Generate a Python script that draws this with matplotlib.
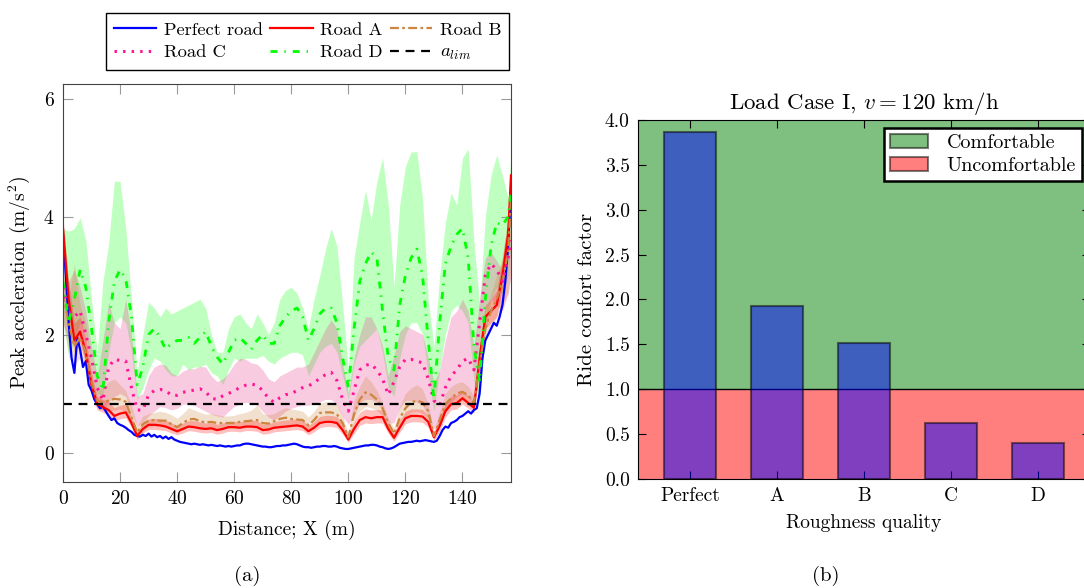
import numpy as np
import matplotlib
matplotlib.use("Agg")
import matplotlib.pyplot as plt
from matplotlib.patches import Patch

plt.rcParams['font.family'] = ['cmr10', 'DejaVu Serif']
plt.rcParams['mathtext.fontset'] = 'cm'
plt.rcParams['axes.formatter.use_mathtext'] = True

# ---------------- data, panel (a) ----------------
# distance grid (m) for the road cases with bands
dist = list(range(0, 157, 2)) + [157]

# perfect road, sampled every metre
dist_perfect = list(range(0, 158))
perfect = [3.7, 3.0, 2.2, 1.6, 1.35, 1.95, 1.75, 1.45, 1.55, 1.15,
           1.05, 0.9, 0.82, 0.75, 0.78, 0.7, 0.62, 0.55, 0.58, 0.5,
           0.47, 0.45, 0.42, 0.38, 0.35, 0.3, 0.28, 0.27, 0.3, 0.28,
           0.32, 0.27, 0.3, 0.26, 0.28, 0.24, 0.27, 0.23, 0.26, 0.22,
           0.2, 0.18, 0.17, 0.16, 0.15, 0.14, 0.15, 0.14, 0.13, 0.14,
           0.13, 0.12, 0.13, 0.12, 0.11, 0.12, 0.11, 0.1, 0.11, 0.1,
           0.11, 0.12, 0.12, 0.14, 0.15, 0.15, 0.14, 0.13, 0.12, 0.11,
           0.1, 0.1, 0.09, 0.09, 0.1, 0.11, 0.11, 0.12, 0.12, 0.13,
           0.14, 0.15, 0.14, 0.12, 0.1, 0.09, 0.09, 0.08, 0.09, 0.1,
           0.1, 0.11, 0.11, 0.1, 0.1, 0.11, 0.1, 0.08, 0.07, 0.06,
           0.06, 0.07, 0.08, 0.09, 0.1, 0.11, 0.12, 0.12, 0.13, 0.13,
           0.12, 0.1, 0.09, 0.07, 0.06, 0.07, 0.09, 0.12, 0.15, 0.16,
           0.17, 0.18, 0.18, 0.19, 0.2, 0.19, 0.2, 0.21, 0.2, 0.19,
           0.18, 0.2, 0.28, 0.38, 0.44, 0.42, 0.5, 0.52, 0.55, 0.6,
           0.62, 0.66, 0.7, 0.66, 0.72, 0.75, 1.0, 1.6, 1.9, 2.0,
           2.1, 2.2, 2.15, 2.3, 2.5, 2.9, 3.5, 4.5]

road_a = [3.8, 2.6, 1.9, 2.05, 1.7, 1.15, 0.82, 0.77, 0.72, 0.62,
          0.66, 0.68, 0.5, 0.28, 0.4, 0.47, 0.47, 0.46, 0.44, 0.4,
          0.36, 0.4, 0.44, 0.43, 0.41, 0.4, 0.41, 0.38, 0.4, 0.43,
          0.43, 0.42, 0.44, 0.44, 0.43, 0.38, 0.39, 0.42, 0.43, 0.44,
          0.45, 0.46, 0.44, 0.36, 0.42, 0.5, 0.52, 0.52, 0.5, 0.38,
          0.22, 0.4, 0.55, 0.6, 0.58, 0.6, 0.6, 0.4, 0.25, 0.42,
          0.58, 0.62, 0.62, 0.61, 0.52, 0.26, 0.45, 0.7, 0.82, 0.84,
          0.92, 0.84, 0.76, 1.6, 2.3, 2.4, 2.5, 3.0, 3.7, 4.7]
road_a_hi = [4.0, 2.9, 2.2, 2.3, 1.95, 1.35, 0.95, 0.9, 0.86, 0.76,
             0.8, 0.82, 0.62, 0.36, 0.5, 0.57, 0.58, 0.57, 0.55, 0.5,
             0.46, 0.5, 0.54, 0.54, 0.52, 0.5, 0.51, 0.48, 0.5, 0.53,
             0.53, 0.52, 0.54, 0.55, 0.54, 0.48, 0.49, 0.52, 0.54, 0.55,
             0.56, 0.57, 0.55, 0.46, 0.52, 0.61, 0.63, 0.63, 0.61, 0.48,
             0.3, 0.52, 0.68, 0.74, 0.72, 0.73, 0.72, 0.5, 0.33, 0.54,
             0.7, 0.74, 0.74, 0.73, 0.63, 0.34, 0.57, 0.83, 0.95, 0.97,
             1.04, 0.96, 0.87, 1.8, 2.5, 2.6, 2.75, 3.3, 4.0, 4.8]
road_a_lo = [3.5, 2.3, 1.7, 1.85, 1.5, 1.0, 0.72, 0.68, 0.63, 0.54,
             0.57, 0.59, 0.42, 0.22, 0.33, 0.39, 0.39, 0.38, 0.37, 0.33,
             0.3, 0.33, 0.37, 0.36, 0.34, 0.33, 0.34, 0.31, 0.33, 0.36,
             0.36, 0.35, 0.37, 0.37, 0.36, 0.31, 0.32, 0.35, 0.36, 0.37,
             0.38, 0.39, 0.37, 0.3, 0.35, 0.42, 0.44, 0.44, 0.42, 0.31,
             0.17, 0.32, 0.46, 0.5, 0.49, 0.5, 0.5, 0.32, 0.19, 0.34,
             0.49, 0.52, 0.52, 0.51, 0.43, 0.2, 0.36, 0.6, 0.72, 0.74,
             0.82, 0.75, 0.67, 1.4, 2.1, 2.2, 2.3, 2.8, 3.4, 4.5]

road_b = [2.7, 2.2, 1.8, 1.95, 1.7, 1.2, 0.88, 0.85, 0.88, 0.91,
          0.9, 0.86, 0.6, 0.34, 0.48, 0.54, 0.55, 0.54, 0.54, 0.48,
          0.43, 0.5, 0.56, 0.57, 0.53, 0.51, 0.52, 0.5, 0.5, 0.5,
          0.5, 0.52, 0.53, 0.54, 0.55, 0.5, 0.49, 0.53, 0.57, 0.59,
          0.57, 0.56, 0.55, 0.46, 0.55, 0.67, 0.68, 0.68, 0.65, 0.5,
          0.26, 0.65, 0.9, 1.02, 0.98, 0.9, 0.75, 0.5, 0.32, 0.58,
          0.75, 0.85, 0.88, 0.85, 0.7, 0.28, 0.55, 0.82, 0.92, 1.0,
          1.03, 0.97, 0.84, 1.5, 2.1, 2.4, 2.6, 2.9, 3.4, 4.3]
road_b_hi = [3.0, 2.6, 3.2, 2.5, 2.2, 1.5, 1.05, 1.1, 1.2, 1.25,
             1.15, 1.05, 0.8, 0.45, 0.62, 0.66, 0.68, 0.7, 0.68, 0.64,
             0.58, 0.66, 0.76, 0.72, 0.68, 0.65, 0.66, 0.64, 0.62, 0.62,
             0.63, 0.66, 0.68, 0.72, 0.8, 0.66, 0.64, 0.66, 0.72, 0.76,
             0.74, 0.72, 0.7, 0.6, 0.7, 0.84, 0.86, 0.86, 0.82, 0.62,
             0.32, 0.88, 1.12, 1.3, 1.2, 1.05, 0.85, 0.58, 0.42, 0.78,
             1.0, 1.1, 1.15, 1.08, 0.82, 0.36, 0.7, 1.0, 1.12, 1.18,
             1.2, 1.12, 0.95, 1.8, 2.35, 2.7, 3.0, 3.3, 4.0, 4.6]
road_b_lo = [2.2, 1.7, 1.5, 1.6, 1.4, 1.0, 0.75, 0.72, 0.7, 0.72,
             0.74, 0.68, 0.45, 0.25, 0.36, 0.44, 0.45, 0.44, 0.43, 0.38,
             0.34, 0.38, 0.44, 0.45, 0.42, 0.4, 0.42, 0.4, 0.4, 0.42,
             0.42, 0.42, 0.44, 0.44, 0.44, 0.4, 0.4, 0.42, 0.45, 0.47,
             0.46, 0.45, 0.43, 0.36, 0.44, 0.54, 0.55, 0.55, 0.52, 0.4,
             0.2, 0.5, 0.7, 0.78, 0.76, 0.72, 0.62, 0.38, 0.22, 0.45,
             0.6, 0.68, 0.7, 0.66, 0.58, 0.22, 0.45, 0.68, 0.8, 0.84,
             0.88, 0.82, 0.72, 1.3, 1.9, 2.1, 2.3, 2.5, 2.7, 3.1]

road_c = [2.8, 2.4, 2.3, 2.4, 2.0, 1.6, 1.1, 0.88, 1.45, 1.58,
          1.56, 1.55, 1.1, 0.72, 0.72, 0.98, 1.05, 1.07, 1.05, 0.97,
          0.97, 1.02, 1.04, 1.06, 1.08, 1.03, 0.92, 0.9, 0.96, 1.0,
          1.05, 1.1, 1.14, 1.16, 1.14, 1.05, 0.92, 0.85, 0.93, 0.98,
          1.0, 1.05, 1.1, 1.13, 1.18, 1.26, 1.32, 1.36, 1.22, 0.9,
          0.7, 1.05, 1.4, 1.48, 1.5, 1.4, 1.25, 0.98, 1.2, 1.45,
          1.58, 1.58, 1.55, 1.52, 1.25, 0.88, 0.8, 1.1, 1.3, 1.4,
          1.55, 1.6, 1.4, 2.2, 3.0, 3.2, 3.1, 2.9, 3.3, 3.6]
road_c_hi = [3.3, 2.9, 3.1, 2.8, 2.4, 1.8, 1.3, 1.9, 2.55, 2.2,
             2.1, 2.6, 2.0, 0.95, 1.0, 1.3, 1.45, 1.5, 1.48, 1.35,
             1.3, 1.38, 1.42, 1.42, 1.46, 1.45, 1.3, 1.2, 1.25, 1.35,
             1.5, 1.6, 1.58, 1.52, 1.5, 1.4, 1.25, 1.2, 1.3, 1.35,
             1.4, 1.45, 1.45, 1.5, 1.7, 1.9, 2.1, 2.25, 2.1, 1.5,
             1.0, 1.6, 2.0, 2.3, 2.3, 2.1, 1.8, 1.3, 1.65, 2.05,
             2.15, 2.1, 2.05, 2.0, 1.6, 1.2, 1.4, 1.9, 2.3, 2.4,
             2.6, 2.4, 1.8, 2.6, 3.3, 3.4, 3.25, 3.1, 3.6, 3.8]
road_c_lo = [2.2, 1.9, 1.8, 1.9, 1.5, 1.0, 0.78, 0.72, 0.85, 0.95,
             1.0, 0.95, 0.65, 0.45, 0.5, 0.62, 0.7, 0.78, 0.76, 0.72,
             0.75, 0.82, 0.82, 0.8, 0.75, 0.7, 0.65, 0.62, 0.6, 0.7,
             0.78, 0.82, 0.85, 0.84, 0.8, 0.7, 0.6, 0.55, 0.62, 0.7,
             0.75, 0.78, 0.8, 0.8, 0.82, 0.86, 0.9, 0.9, 0.8, 0.6,
             0.48, 0.6, 0.85, 0.9, 0.9, 0.85, 0.7, 0.5, 0.5, 0.75,
             0.88, 0.88, 0.85, 0.8, 0.6, 0.4, 0.45, 0.7, 0.85, 0.95,
             1.0, 0.95, 0.85, 1.5, 2.4, 2.6, 2.5, 2.4, 2.7, 3.0]

road_d = [2.9, 2.2, 2.6, 3.1, 2.8, 2.1, 1.3, 1.05, 2.2, 2.9,
          3.1, 2.95, 2.3, 1.15, 1.45, 2.0, 2.1, 1.95, 1.75, 1.85,
          1.9, 1.9, 1.95, 1.85, 1.95, 2.05, 1.8, 1.62, 1.5, 1.7,
          1.9, 1.95, 1.85, 1.75, 1.9, 2.0, 1.85, 1.85, 2.15, 2.3,
          2.4, 2.45, 2.3, 1.9, 2.1, 2.35, 2.45, 2.45, 2.2, 1.6,
          1.1, 2.1, 2.9, 3.2, 3.4, 3.3, 2.4, 1.6, 1.4, 2.5,
          3.0, 3.3, 3.45, 3.0, 1.9, 0.9, 2.2, 3.2, 3.5, 3.7,
          3.8, 3.3, 1.8, 1.2, 2.6, 3.5, 3.9, 3.85, 4.0, 4.4]
road_d_hi = [3.8, 3.75, 3.8, 3.98, 3.6, 2.6, 1.7, 2.9, 3.55, 4.6,
             4.6, 3.8, 2.6, 1.35, 2.0, 2.55, 2.45, 2.3, 2.45, 2.35,
             2.4, 2.45, 2.5, 2.55, 2.6, 2.45, 2.0, 1.7, 1.7, 2.1,
             2.3, 2.35, 2.2, 2.1, 2.35, 2.2, 2.0, 2.2, 2.6, 2.75,
             2.8, 2.7, 2.45, 2.1, 2.6, 3.0, 3.45, 3.8, 3.5, 2.5,
             1.4, 3.3, 3.9, 4.45, 3.95, 4.6, 5.0, 4.2, 2.8, 4.2,
             4.85, 5.1, 5.1, 4.3, 2.6, 1.8, 3.0, 3.9, 4.4, 4.2,
             5.0, 5.15, 3.6, 2.5, 4.0, 4.7, 5.05, 4.7, 4.3, 5.1]
road_d_lo = [2.3, 1.6, 1.9, 2.2, 2.0, 1.5, 1.0, 0.95, 1.7, 2.2,
             2.3, 2.2, 1.7, 0.9, 1.1, 1.4, 1.6, 1.55, 1.4, 1.3,
             1.3, 1.5, 1.4, 1.45, 1.45, 1.5, 1.35, 1.3, 1.15, 1.4,
             1.6, 1.55, 1.6, 1.6, 1.6, 1.65, 1.55, 1.5, 1.6, 1.65,
             1.7, 1.7, 1.65, 1.3, 1.5, 1.7, 1.8, 1.85, 1.7, 1.3,
             0.9, 1.5, 1.8, 1.9, 2.0, 2.1, 1.7, 1.1, 0.95, 1.6,
             2.0, 2.2, 2.2, 2.0, 1.3, 0.7, 1.4, 2.0, 2.4, 2.5,
             2.4, 2.2, 1.2, 0.9, 2.0, 2.6, 2.8, 2.7, 3.0, 3.5]

a_lim = 0.83

# ---------------- data, panel (b) ----------------
quality = ['Perfect', 'A', 'B', 'C', 'D']
comfort = [3.87, 1.93, 1.52, 0.62, 0.40]
comfort_limit = 1.0

# ---------------- figure ----------------
fig = plt.figure(figsize=(10.84, 5.88), dpi=100)
ax1 = fig.add_axes([0.0581, 0.1803, 0.4133, 0.6769])
ax2 = fig.add_axes([0.5886, 0.1854, 0.4170, 0.6105])

# bands
ax1.fill_between(dist, road_d_lo, road_d_hi, color='lime', alpha=0.25, lw=0)
ax1.fill_between(dist, road_c_lo, road_c_hi, color='#e8559b', alpha=0.3, lw=0)
ax1.fill_between(dist, road_b_lo, road_b_hi, color='peru', alpha=0.25, lw=0)
ax1.fill_between(dist, road_a_lo, road_a_hi, color='red', alpha=0.25, lw=0)

h_perf, = ax1.plot(dist_perfect, perfect, color='blue', lw=1.6, label='Perfect road')
h_a, = ax1.plot(dist, road_a, color='red', lw=1.6, label='Road A')
h_b, = ax1.plot(dist, road_b, color='peru', lw=1.6, dashes=[4, 1.5, 1.2, 1.5],
                label='Road B')
h_c, = ax1.plot(dist, road_c, color='deeppink', lw=2.2, dashes=[0.8, 2.0], label='Road C')
h_d, = ax1.plot(dist, road_d, color='lime', lw=2, dashes=[2.5, 2.5, 0.5, 2.5],
                label='Road D')
h_lim = ax1.axhline(a_lim, color='black', lw=1.6, dashes=[4, 3], label='$a_{lim}$')

ax1.set_xlim(0, 157)
ax1.set_ylim(-0.5, 6.25)
ax1.set_xticks(range(0, 141, 20))
ax1.set_yticks([0, 2, 4, 6])
ax1.tick_params(direction='in', length=7, color='#999999', labelsize=14,
                top=True, right=True, pad=6)
for s in ax1.spines.values():
    s.set_color('#444444')
ax1.set_xlabel('Distance; X (m)', fontsize=14, labelpad=8)
ax1.set_ylabel('Peak acceleration (m/s$^2$)', fontsize=14, labelpad=8)

handles = [h_perf, h_c, h_a, h_d, h_b, h_lim]
fig.legend(handles=handles, labels=[h.get_label() for h in handles], ncol=3,
           loc='upper center', bbox_to_anchor=(0.2837, 0.993), fontsize=13.3,
           fancybox=False, edgecolor='black', framealpha=1, handlelength=2.3,
           columnspacing=0.4, handletextpad=0.4, borderpad=0.45, labelspacing=0.35)

# panel (b)
ax2.axhspan(comfort_limit, 4.0, color='g', alpha=0.5, lw=0, zorder=0)
ax2.axhspan(0, comfort_limit, color='r', alpha=0.5, lw=0, zorder=0)
ax2.axhline(comfort_limit, color='black', lw=1, zorder=1)
xpos = np.arange(len(quality))
ax2.bar(xpos, comfort, width=0.6, color='blue', alpha=0.5, edgecolor='black',
        lw=1.5, zorder=2)
ax2.set_xlim(-0.6, 4.6)
ax2.set_ylim(0, 4.0)
ax2.set_xticks(xpos)
ax2.set_xticklabels(quality)
ax2.set_yticks(np.arange(0, 4.01, 0.5))
ax2.yaxis.set_major_formatter(matplotlib.ticker.FormatStrFormatter('%.1f'))
ax2.tick_params(direction='in', length=6, labelsize=14, top=True, right=True, pad=6)
ax2.set_title('Load Case I, $v = 120$ km/h', fontsize=16.5, pad=8)
ax2.set_xlabel('Roughness quality', fontsize=14, labelpad=6)
ax2.set_ylabel('Ride confort factor', fontsize=15, labelpad=6)
leg_handles = [Patch(facecolor='g', alpha=0.5, edgecolor='black', lw=1.5),
               Patch(facecolor='r', alpha=0.5, edgecolor='black', lw=1.5)]
leg2 = ax2.legend(leg_handles, ['Comfortable', 'Uncomfortable'], loc='upper right',
                  fontsize=14.5, fancybox=False, edgecolor='black', framealpha=1,
                  handlelength=1.9, handletextpad=0.9, borderaxespad=0.4,
                  borderpad=0.3, labelspacing=0.25)
leg2.get_frame().set_linewidth(1.8)

fig.text(247 / 1084, 1 - 576 / 588, '(a)', fontsize=15, ha='center', va='center')
fig.text(826 / 1084, 1 - 576 / 588, '(b)', fontsize=15, ha='center', va='center')

fig.savefig('out.png', dpi=100)
